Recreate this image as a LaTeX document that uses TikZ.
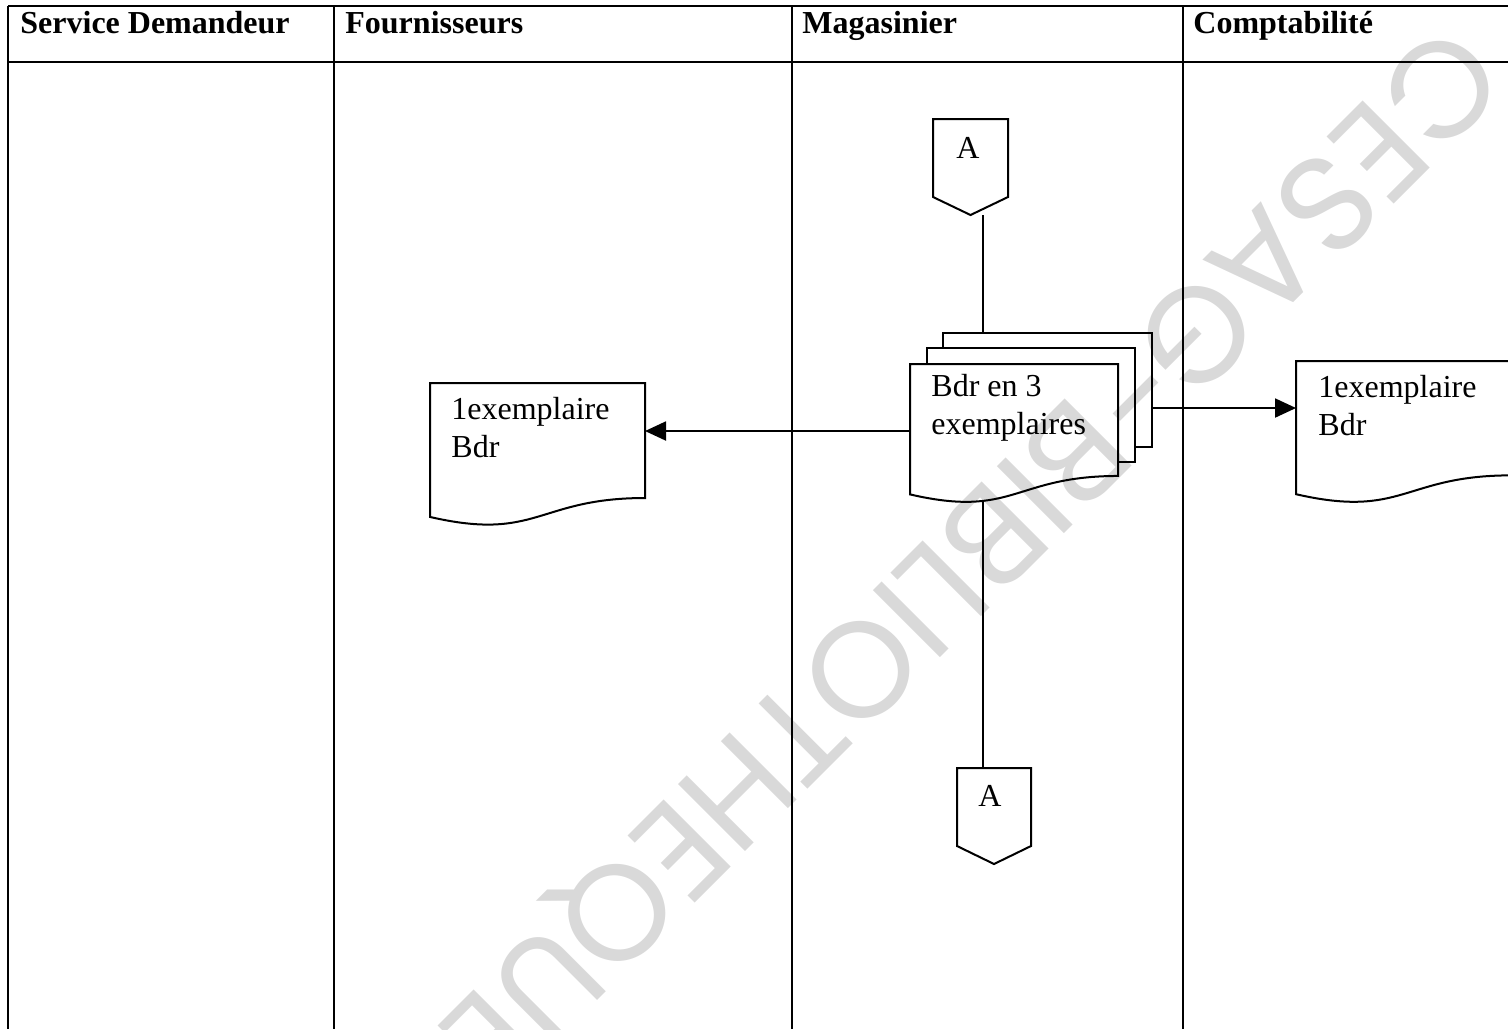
\documentclass[tikz,border=0pt]{standalone}
\usepackage{fontspec}
\setmainfont{Liberation Serif}
\newfontfamily\wmfont{Poppins}
\usetikzlibrary{arrows.meta,calc}
\definecolor{wmgray}{RGB}{217,217,217}

% document symbol with a wavy lower edge
\newcommand{\docshape}[2]{%
  \path[#2] (#1.north west) -- (#1.north east)
    -- ($(#1.north east)!0.802!(#1.south east)$)
    .. controls ($(#1.north)!0.802!(#1.south)$) and ($(#1.north)!1.1075!(#1.south)$) ..
    ($(#1.north west)!0.934!(#1.south west)$) -- cycle;}
% off-page connector (pentagon pointing down)
\newcommand{\offpage}[2]{%
  \path[#2] (#1.north west) -- (#1.north east)
    -- ($(#1.north east)!0.8125!(#1.south east)$) -- (#1.south)
    -- ($(#1.north west)!0.8125!(#1.south west)$) -- cycle;}

\begin{document}
\begin{tikzpicture}[x=0.5pt,y=-0.5pt,
  line/.style={line width=1pt, black},
  arrow/.style={line, -{Triangle[length=10.5pt,width=9.5pt]}},
  lanehead/.style={font=\fontsize{16}{19}\selectfont\bfseries, anchor=base west, inner sep=0},
  txt/.style={font=\fontsize{16}{19}\selectfont, align=left, anchor=base west, inner sep=0},
  box/.style={anchor=north west, inner sep=0, outer sep=0, draw=none, rectangle},
  wm/.style={font=\wmfont\fontsize{68}{72}\selectfont, text=wmgray, inner sep=0},
]
\useasboundingbox (0,0) rectangle (1508,1029);

% shape frames
\node[box, minimum width=107.5pt, minimum height=71.7pt] (fourn) at (430,383) {};
\node[box, minimum width=104.5pt, minimum height=57pt] (stackback) at (943,333) {};
\node[box, minimum width=104pt, minimum height=57pt] (stackmid) at (927,348) {};
\node[box, minimum width=104pt, minimum height=69.8pt] (stack) at (910,364) {};
\node[box, minimum width=107.5pt, minimum height=71.3pt] (compta) at (1296,361) {};
\node[box, minimum width=37.5pt, minimum height=48pt] (A1) at (933,119) {};
\node[box, minimum width=37pt, minimum height=48pt] (A2) at (957,768) {};

% white fills
\fill[white] (stackback.north west) rectangle (stackback.south east);
\fill[white] (stackmid.north west) rectangle (stackmid.south east);
\docshape{stack}{fill=white}
\docshape{fourn}{fill=white}
\docshape{compta}{fill=white}
\offpage{A1}{fill=white}
\offpage{A2}{fill=white}

% library stamp
\node[wm, rotate=225] (wmark) at (966,553) {CESAG-BIBLIOTHEQUE};

% swimlane table
\draw[line] (8,6) -- (1508,6);
\draw[line] (8,62) -- (1508,62);
\foreach \xx in {8,334,792,1183} \draw[line] (\xx,6) -- (\xx,1029);

\node[lanehead] (h1) at (20,33) {Service Demandeur};
\node[lanehead] (h2) at (345,33) {Fournisseurs};
\node[lanehead] (h3) at (802,33) {Magasinier};
\node[lanehead] (h4) at (1193,33) {Comptabilité};

% outlines
\draw[line] (stackback.west |- stackmid.north) -- (stackback.north west) -- (stackback.north east)
  -- (stackback.south east) -- (stackback.south east -| stackmid.east);
\draw[line] (stackmid.west |- stack.north) -- (stackmid.north west) -- (stackmid.north east)
  -- (stackmid.south east) -- (stackmid.south east -| stack.east);
\docshape{stack}{draw, line}
\docshape{fourn}{draw, line}
\docshape{compta}{draw, line}
\offpage{A1}{draw, line}
\offpage{A2}{draw, line}

% texts (base anchor sits on the last line)
\node[txt, anchor=base] (A1t) at (968,158) {A};
\node[txt, anchor=base] (A2t) at (990,806) {A};
\node[txt] (stackt) at (931,434) {Bdr en 3\\exemplaires};
\node[txt] (fournt) at (451,457) {1exemplaire\\Bdr};
\node[txt] (comptat) at (1318,435) {1exemplaire\\Bdr};

% connectors
\coordinate (v) at (983,0);
\coordinate (stackbot) at ($(stack.north west)!0.98!(stack.south west)$);
\coordinate (sl) at ($(stack.north west)!0.48!(stack.south west)$);
\coordinate (sr) at ($(stackback.north east)!0.658!(stackback.south east)$);
\draw[line] (A1.south -| v) -- (stackback.north -| v);
\draw[line] (stackbot -| v) -- (A2.north -| v);
\draw[arrow] (sl) -- (sl -| fourn.east);
\draw[arrow] (sr) -- (sr -| compta.west);
\end{tikzpicture}
\end{document}
